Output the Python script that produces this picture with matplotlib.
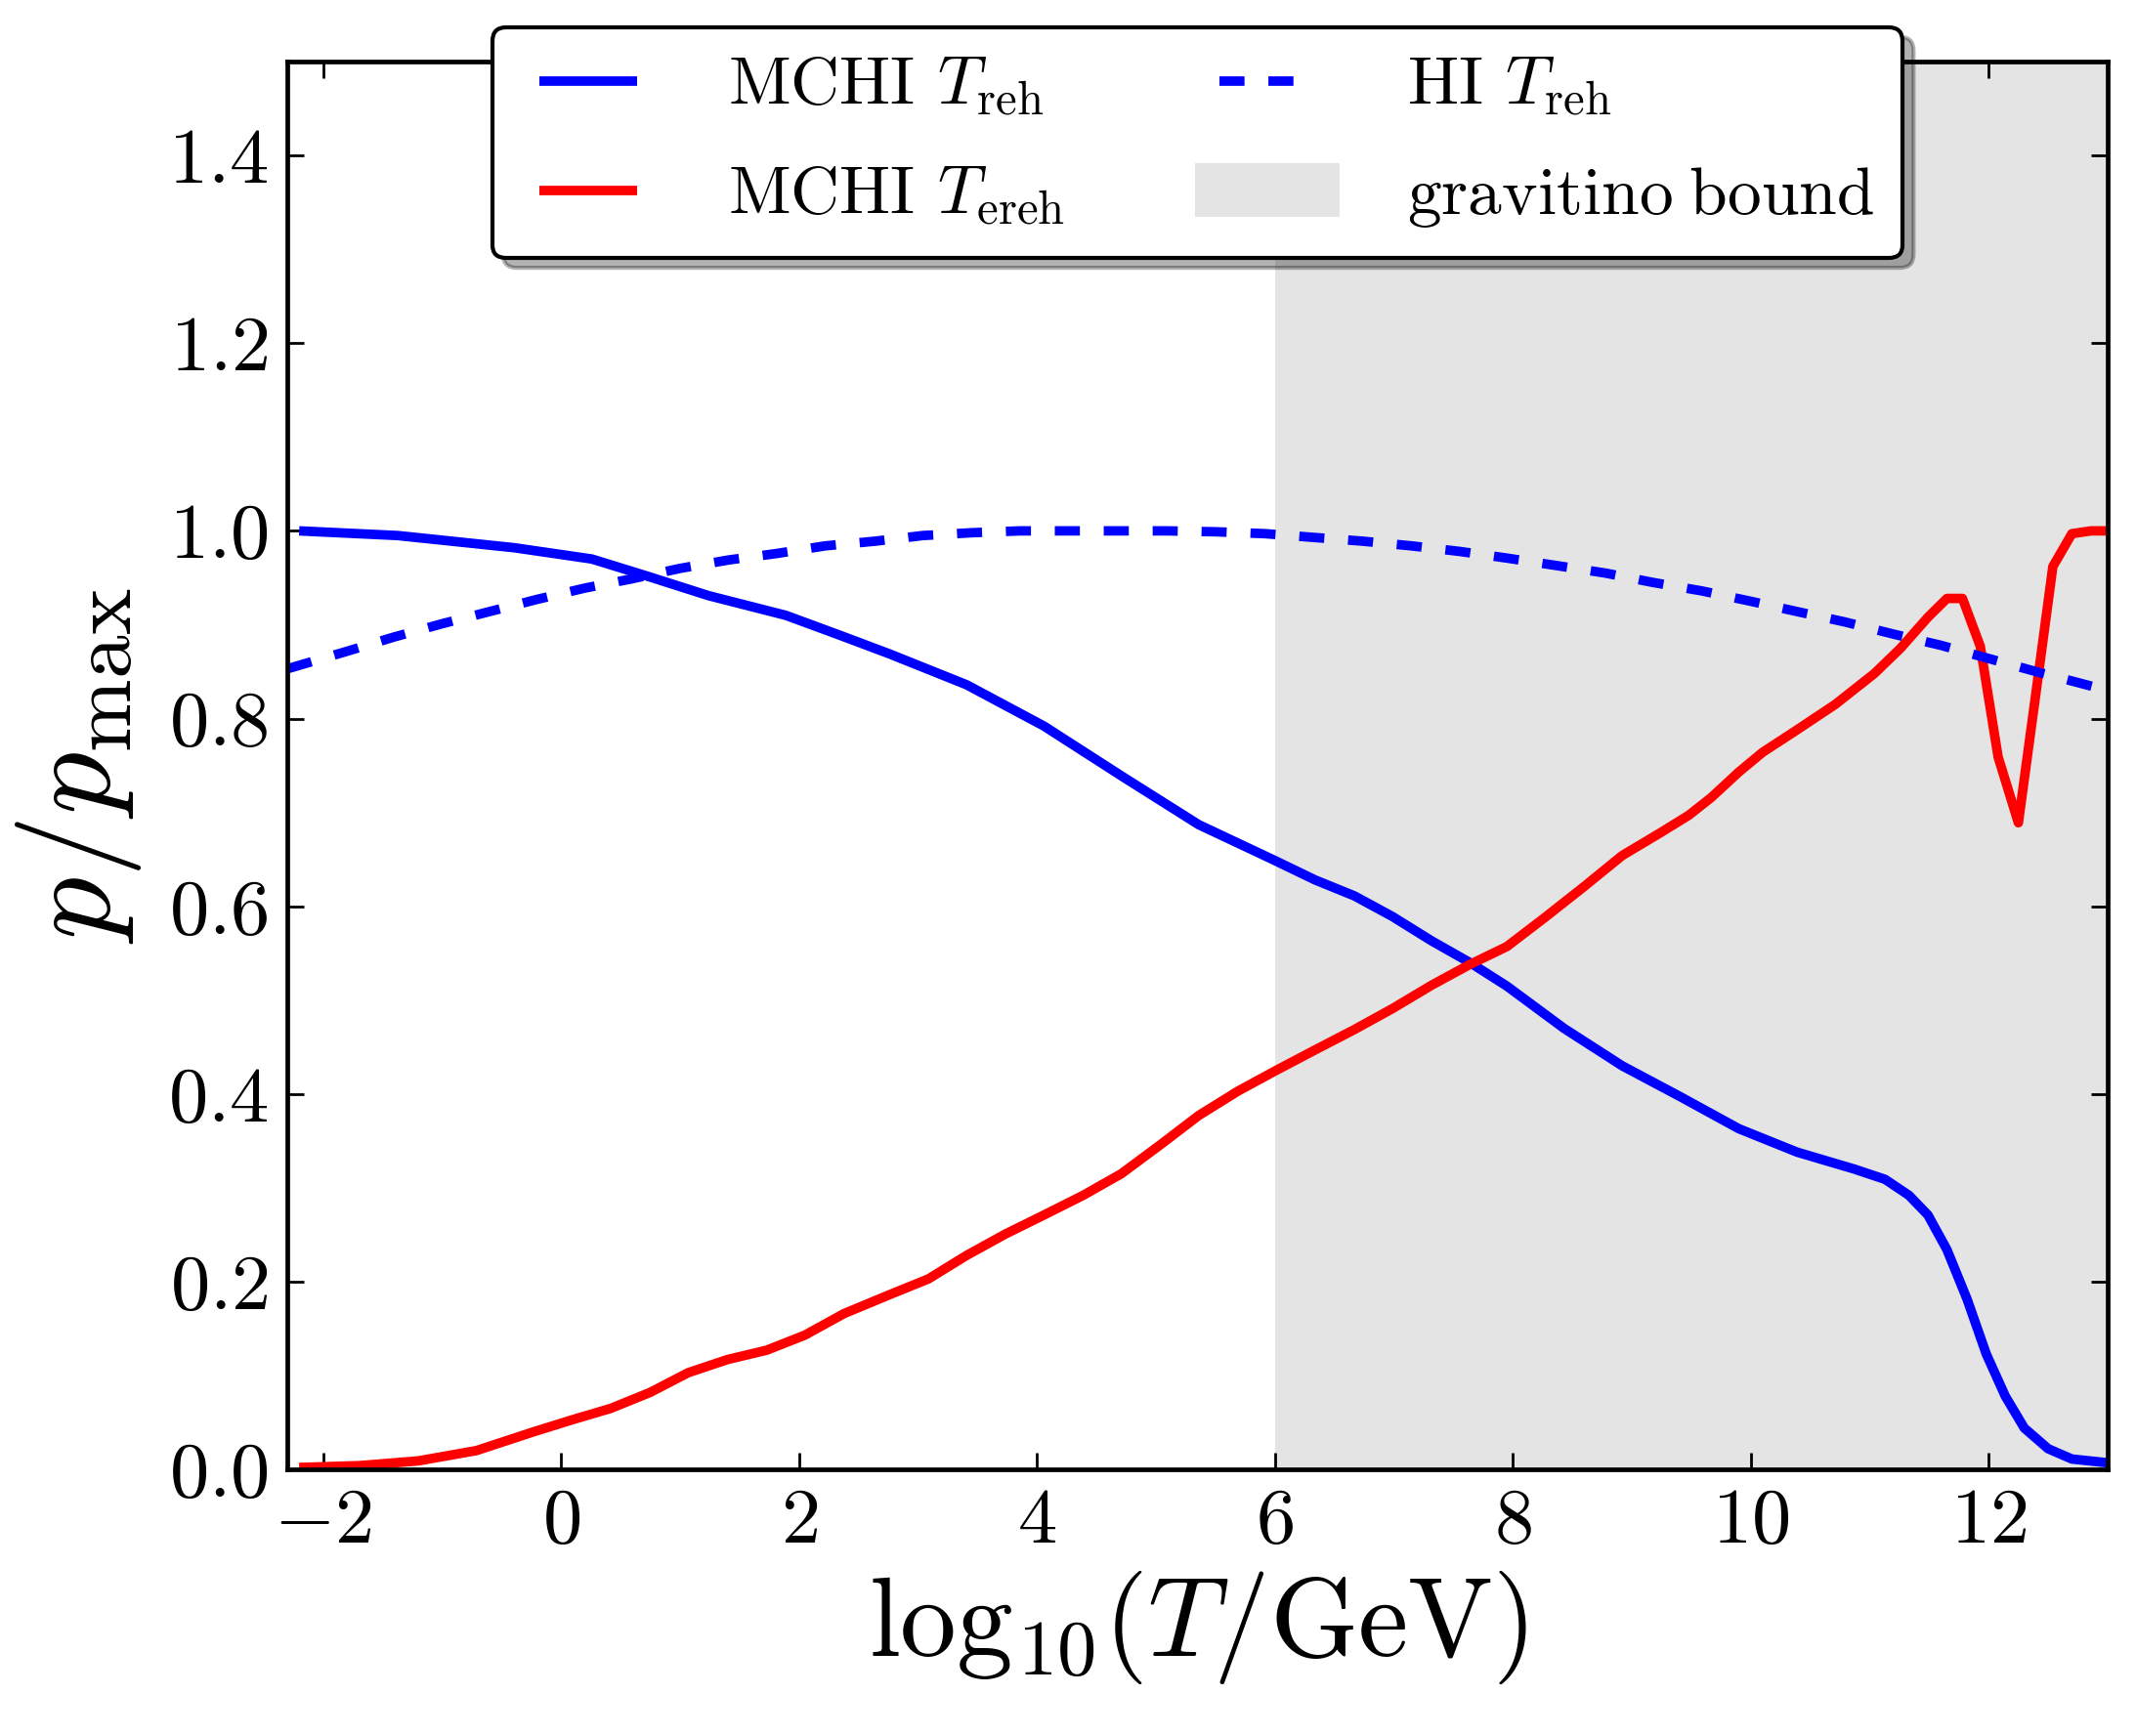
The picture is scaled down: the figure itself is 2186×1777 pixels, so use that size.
import matplotlib
matplotlib.use('Agg')
import matplotlib.pyplot as plt
from matplotlib.patches import Rectangle, Shadow
from matplotlib.legend_handler import HandlerPatch, HandlerLine2D

plt.rcParams.update({
    'font.family': 'serif',
    'font.serif': ['cmr10'],
    'mathtext.fontset': 'cm',
    'axes.formatter.use_mathtext': True,
    'axes.unicode_minus': True,
})

# ---- data ----
x_mchi_reh = [-2.2, -1.37, -0.39, 0.26, 0.72, 1.24, 1.89, 2.34, 2.76, 3.41, 4.06, 4.71,
              5.36, 5.98, 6.34, 6.67, 6.99, 7.32, 7.64, 7.95, 8.43, 8.92, 9.41, 9.90,
              10.39, 10.87, 11.13, 11.33, 11.49, 11.65, 11.82, 11.98, 12.14, 12.30,
              12.50, 12.70, 13.0]
y_mchi_reh = [1.000, 0.995, 0.982, 0.970, 0.952, 0.931, 0.910, 0.889, 0.869, 0.836, 0.792,
              0.739, 0.687, 0.650, 0.628, 0.611, 0.589, 0.563, 0.540, 0.515, 0.470, 0.430,
              0.397, 0.363, 0.338, 0.320, 0.309, 0.292, 0.271, 0.234, 0.181, 0.123, 0.078,
              0.044, 0.022, 0.011, 0.007]

x_mchi_ereh = [-2.2, -1.69, -1.20, -0.71, -0.23, 0.10, 0.42, 0.75, 1.07, 1.40, 1.73, 2.05,
               2.38, 2.76, 3.09, 3.41, 3.74, 4.06, 4.39, 4.71, 5.04, 5.36, 5.69, 6.01,
               6.34, 6.66, 6.99, 7.32, 7.64, 7.95, 8.27, 8.60, 8.92, 9.25, 9.48, 9.67,
               9.90, 10.10, 10.39, 10.71, 11.04, 11.26, 11.49, 11.65, 11.78, 11.93,
               12.08, 12.25, 12.39, 12.54, 12.70, 12.86, 13.0]
y_mchi_ereh = [0.002, 0.004, 0.009, 0.020, 0.040, 0.053, 0.065, 0.082, 0.103, 0.117, 0.127,
               0.143, 0.166, 0.186, 0.203, 0.228, 0.251, 0.271, 0.292, 0.315, 0.346, 0.377,
               0.403, 0.425, 0.447, 0.468, 0.491, 0.516, 0.538, 0.557, 0.588, 0.621, 0.654,
               0.679, 0.697, 0.716, 0.743, 0.764, 0.788, 0.815, 0.848, 0.875, 0.908, 0.928,
               0.928, 0.877, 0.759, 0.689, 0.820, 0.962, 0.997, 1.000, 1.000]

x_hi_reh = [-2.30, -1.79, -1.40, -1.0, -0.60, -0.20, 0.20, 0.60, 1.0, 1.41, 1.82, 2.22,
            2.64, 3.04, 3.45, 3.86, 4.27, 4.69, 5.10, 5.51, 5.92, 6.33, 6.74, 7.15, 7.56,
            7.95, 8.37, 8.78, 9.18, 9.59, 10.0, 10.39, 10.79, 11.2, 11.6, 12.0, 12.4,
            12.79, 13.0]
y_hi_reh = [0.853, 0.872, 0.887, 0.901, 0.914, 0.927, 0.939, 0.949, 0.960, 0.969, 0.976,
            0.984, 0.989, 0.995, 0.998, 1.000, 1.000, 1.000, 1.000, 0.999, 0.997, 0.993,
            0.989, 0.984, 0.978, 0.971, 0.963, 0.955, 0.945, 0.936, 0.925, 0.914, 0.903,
            0.890, 0.878, 0.864, 0.850, 0.837, 0.830]

gravitino_bound = 6.0

labels = [r'MCHI $T_{\rm reh}$', r'MCHI $T_{\rm ereh}$', r'HI $T_{\rm reh}$',
          r'$\mathrm{gravitino\;bound}$']
xticks = [-2, 0, 2, 4, 6, 8, 10, 12]
yticks = [0.0, 0.2, 0.4, 0.6, 0.8, 1.0, 1.2, 1.4]

# ---- figure ----
fig = plt.figure(figsize=(10.93, 8.885), dpi=200)
ax = fig.add_axes([0.1345, 0.1536, 0.8522, 0.8109])

LW = 3.5
gray = '#e4e4e4'
ax.axvspan(gravitino_bound, 14, color=gray, lw=0, zorder=0)
l1, = ax.plot(x_mchi_reh, y_mchi_reh, color='blue', lw=LW, solid_capstyle='butt')
l2, = ax.plot(x_mchi_ereh, y_mchi_ereh, color='red', lw=LW, solid_capstyle='butt')
l3, = ax.plot(x_hi_reh, y_hi_reh, color='blue', lw=LW, ls=(0, (2.64, 2.51)))

ax.set_xlim(-2.3, 13)
ax.set_ylim(0, 1.5)
ax.set_xticks(xticks)
ax.set_yticks(yticks)
ax.tick_params(direction='in', top=True, right=True, length=6, width=1,
               labelsize=29, pad=7)
for s in ax.spines.values():
    s.set_linewidth(1.7)

ax.set_xlabel(r'$\mathrm{log}_{10}(T/\mathrm{GeV})$', fontsize=41.5, labelpad=4)
ax.set_ylabel(r'$p/p_{\rm max}$', fontsize=46, labelpad=9)


def rect_func(legend, orig_handle, xdescent, ydescent, width, height, fontsize):
    return Rectangle((-xdescent - 0.08 * fontsize, -ydescent - 0.065 * height),
                     width + 0.42 * fontsize, 1.13 * height)


XPAD = 0.28
patch = Rectangle((0, 0), 1, 1, facecolor=gray, edgecolor='none')
hmap = {
    l1: HandlerLine2D(xpad=XPAD),
    l2: HandlerLine2D(xpad=XPAD),
    l3: HandlerLine2D(xpad=XPAD),
    patch: HandlerPatch(patch_func=rect_func),
}
leg = ax.legend([l1, l2, l3, patch], labels, ncol=2, loc='upper center',
                bbox_to_anchor=(0.5, 1.0243), borderaxespad=0, fontsize=25,
                handlelength=1.71, handletextpad=1.34, columnspacing=2.0,
                borderpad=0.42, labelspacing=0.69, fancybox=True, framealpha=1,
                edgecolor='black', handler_map=hmap)
leg.get_frame().set_linewidth(1.5)

fig.canvas.draw()
sh = Shadow(leg.legendPatch, 4, -3.5, facecolor='black', edgecolor='black', alpha=0.3)
sh.set_zorder(4.9)
sh.set_clip_on(False)
ax.add_artist(sh)

fig.savefig('out.png', dpi=200)
